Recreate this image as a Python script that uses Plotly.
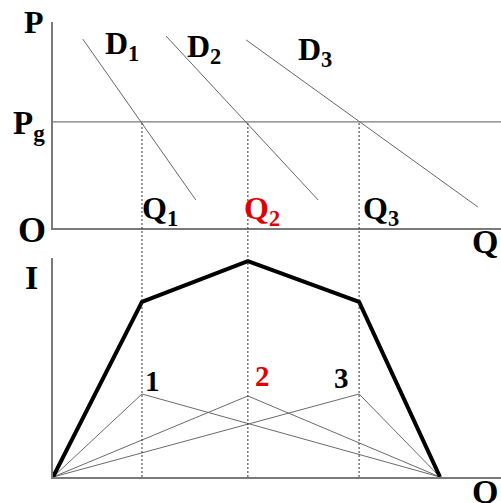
import plotly.graph_objects as go

# ---- data (axis units) ----
Q_points = [2.0, 4.38, 6.88]          # Q1, Q2, Q3
Q_end = 8.7                           # quantity where the I curves close
Pg = 5.15                             # price level
x_max = 10.07
y_max_top = 10.0
y_max_bot = 10.0

D1_x = [0.67, 3.21]; D1_y = [9.17, 1.36]
D2_x = [2.54, 5.96]; D2_y = [9.32, 1.36]
D3_x = [4.34, 9.55]; D3_y = [9.13, 1.02]

I_total_x = [0, 2.0, 4.38, 6.88, 8.7]
I_total_y = [0, 8.0, 9.86, 8.0, 0]
I_peaks = [3.79, 3.70, 3.79]          # peaks of triangles 1, 2, 3

W, H = 501, 503
top_dom = [(H - 228) / H, (H - 22) / H]
bot_dom = [(H - 477) / H, (H - 258) / H]
x_dom = [53 / W, 1.0]

fig = go.Figure()

thin = dict(color="#666666", width=1)
# Top panel
fig.add_trace(go.Scatter(x=[0, x_max], y=[Pg, Pg], mode="lines",
                         line=dict(color="#7a7a7a", width=1.3), xaxis="x", yaxis="y"))
for dx, dy in [(D1_x, D1_y), (D2_x, D2_y), (D3_x, D3_y)]:
    fig.add_trace(go.Scatter(x=dx, y=dy, mode="lines", line=thin, xaxis="x", yaxis="y"))

# Bottom panel: triangles
for q, pk in zip(Q_points, I_peaks):
    fig.add_trace(go.Scatter(x=[0, q, Q_end], y=[0, pk, 0], mode="lines",
                             line=dict(color="#6a6a6a", width=1), xaxis="x2", yaxis="y2"))
fig.add_trace(go.Scatter(x=I_total_x, y=I_total_y, mode="lines",
                         line=dict(color="black", width=4), xaxis="x2", yaxis="y2"))

# dashed verticals from Pg down to the bottom axis
y_top_paper = top_dom[0] + Pg / y_max_top * (top_dom[1] - top_dom[0])
for q in Q_points:
    fig.add_shape(type="line", xref="x", yref="paper", x0=q, x1=q,
                  y0=bot_dom[0], y1=y_top_paper,
                  line=dict(color="#333333", width=1, dash="2px,2px"))

def px(x, y):
    return x / W, 1 - y / H

serif = "Liberation Serif"
labels = [
    ("P", 34, 22, 32, "black"),
    ("P<sub>g</sub>", 29, 126, 33, "black"),
    ("O", 32, 230, 36, "black"),
    ("D<sub>1</sub>", 122, 45, 32, "black"),
    ("D<sub>2</sub>", 204, 48, 32, "black"),
    ("D<sub>3</sub>", 315, 52, 32, "black"),
    ("Q<sub>1</sub>", 160, 210, 32, "black"),
    ("Q<sub>2</sub>", 262, 210, 32, "#e00000"),
    ("Q<sub>3</sub>", 381, 210, 32, "black"),
    ("Q", 485, 241, 34, "black"),
    ("I", 31, 277, 34, "black"),
    ("1", 152, 381, 29, "black"),
    ("2", 262, 376, 29, "#e00000"),
    ("3", 341, 378, 29, "black"),
    ("Q", 485, 491, 34, "black"),
]
for t, x, y, s, c in labels:
    xp, yp = px(x, y)
    fig.add_annotation(text=t, x=xp, y=yp, xref="paper", yref="paper",
                       xanchor="center", yanchor="middle", showarrow=False,
                       font=dict(family=serif, size=s, color=c, weight="bold"))

axis_common = dict(showgrid=False, zeroline=False, showticklabels=False, ticks="",
                   showline=True, linecolor="#7a7a7a", linewidth=1.5, fixedrange=True)
fig.update_layout(
    width=W, height=H, margin=dict(l=0, r=0, t=0, b=0),
    paper_bgcolor="white", plot_bgcolor="white", showlegend=False,
    xaxis=dict(domain=x_dom, range=[0, x_max], anchor="y", **axis_common),
    yaxis=dict(domain=top_dom, range=[0, y_max_top], anchor="x", **axis_common),
    xaxis2=dict(domain=x_dom, range=[0, x_max], anchor="y2", **axis_common),
    yaxis2=dict(domain=bot_dom, range=[0, y_max_bot], anchor="x2", **axis_common),
)

fig.write_html("out.html", config={"displayModeBar": False},
               post_script="document.body.style.margin='0px';document.body.style.overflow='hidden';")
